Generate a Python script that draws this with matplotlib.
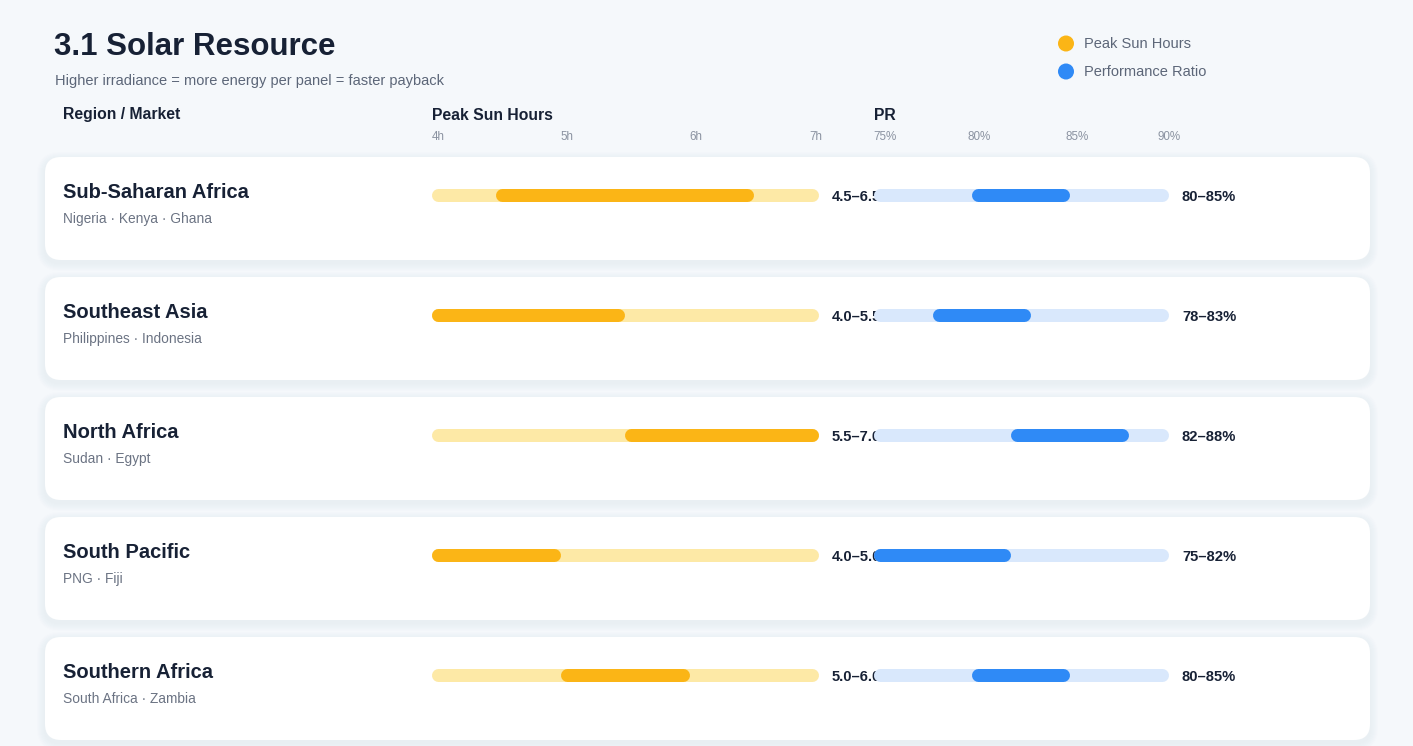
import matplotlib
matplotlib.use('Agg')
import matplotlib.pyplot as plt
from matplotlib.patches import FancyBboxPatch, Circle

plt.rcParams['font.family'] = ['Liberation Sans', 'DejaVu Sans']

# data
regions = ['Sub-Saharan Africa', 'Southeast Asia', 'North Africa', 'South Pacific', 'Southern Africa']
countries = ['Nigeria · Kenya · Ghana', 'Philippines · Indonesia', 'Sudan · Egypt', 'PNG · Fiji', 'South Africa · Zambia']
psh_lo = [4.5, 4.0, 5.5, 4.0, 5.0]
psh_hi = [6.5, 5.5, 7.0, 5.0, 6.0]
pr_lo = [80, 78, 82, 75, 80]
pr_hi = [85, 83, 88, 82, 85]
psh_ticks = [4, 5, 6, 7]
pr_ticks = [75, 80, 85, 90]

W, H = 1413, 746
BG = '#f5f8fb'
DARK = '#172135'
GREY = '#5c6678'
LIGHTGREY = '#8b93a1'
ORANGE = '#fbb516'
ORANGE_L = '#fde9a6'
BLUE = '#2f8af6'
BLUE_L = '#d9e8fc'

fig = plt.figure(figsize=(W / 100, H / 100), dpi=100)
fig.patch.set_facecolor(BG)
ax = fig.add_axes([0, 0, 1, 1])
ax.set_xlim(0, W)
ax.set_ylim(H, 0)
ax.axis('off')

# header
ax.text(54, 47, '3.1 Solar Resource', fontsize=22.5, fontweight='bold', color=DARK, va='center')
ax.text(55, 81, 'Higher irradiance = more energy per panel = faster payback', fontsize=10.5, color=GREY, va='center')

legend = [('Peak Sun Hours', ORANGE), ('Performance Ratio', BLUE)]
for k, (name, col) in enumerate(legend):
    y = 43.5 + 28 * k
    ax.add_patch(Circle((1066, y), 8, color=col, lw=0))
    ax.text(1084, y, name, fontsize=10.5, color=GREY, va='center')

ax.text(63, 115, 'Region / Market', fontsize=11.3, fontweight='bold', color=DARK, va='center')
ax.text(432, 115, 'Peak Sun Hours', fontsize=11.3, fontweight='bold', color=DARK, va='center')
ax.text(874, 115, 'PR', fontsize=11.3, fontweight='bold', color=DARK, va='center')

# cards
row_top, row_step, card_h = 157, 120, 103
for i, (reg, cty) in enumerate(zip(regions, countries)):
    top = row_top + row_step * i
    for s in range(8, 0, -1):
        ax.add_patch(FancyBboxPatch((45 - s, top - s + 3), 1325 + 2 * s, card_h + 2 * s,
                                    boxstyle='round,pad=0,rounding_size=%d' % (16 + s),
                                    fc='#dde5ef', ec='none', alpha=0.06))
    ax.add_patch(FancyBboxPatch((45, top), 1325, card_h, boxstyle='round,pad=0,rounding_size=16',
                                fc='white', ec='none'))
    ax.text(63, top + 36, reg, fontsize=14.5, fontweight='bold', color=DARK, va='center')
    ax.text(63, top + 62, cty, fontsize=9.9, color='#6b7383', va='center')

# bar axes: rows -0.5..4.5 map to pixel rows around the card centres
cy0 = 195
ybot = cy0 + row_step * 4.5
ytop = cy0 - row_step * 0.5
bar_px = 13


def bar_axes(x0, x1, lim):
    a = fig.add_axes([x0 / W, 1 - ybot / H, (x1 - x0) / W, (ybot - ytop) / H])
    a.set_xlim(*lim)
    a.set_ylim(len(regions) - 0.5, -0.5)
    a.axis('off')
    a.patch.set_alpha(0)
    return a


def rbar(a, lo, hi, y, col, px_per_unit, z):
    r = bar_px / 2 / px_per_unit
    a.plot([lo + r, hi - r], [y, y], color=col, lw=bar_px * 0.72, solid_capstyle='round',
           zorder=z, clip_on=False)


ax_psh = bar_axes(431.5, 818, (4, 7))
ax_pr = bar_axes(873.5, 1168, (75, 90))
psh_scale = (818 - 431.5) / 3
pr_scale = (1168 - 873.5) / 15

for i in range(len(regions)):
    rbar(ax_psh, 4, 7, i, ORANGE_L, psh_scale, 1)
    rbar(ax_psh, psh_lo[i], psh_hi[i], i, ORANGE, psh_scale, 2)
    ax_psh.annotate('%.1f–%.1f' % (psh_lo[i], psh_hi[i]), xy=(7, i), xytext=(10, -1.1),
                    textcoords='offset points', fontsize=10.6, fontweight='bold', color=DARK,
                    va='center', ha='left', annotation_clip=False)
    rbar(ax_pr, 75, 90, i, BLUE_L, pr_scale, 1)
    rbar(ax_pr, pr_lo[i], pr_hi[i], i, BLUE, pr_scale, 2)
    ax_pr.annotate('%d–%d%%' % (pr_lo[i], pr_hi[i]), xy=(90, i), xytext=(10, -1.1),
                   textcoords='offset points', fontsize=10.6, fontweight='bold', color=DARK,
                   va='center', ha='left', annotation_clip=False)

# tick labels above the tracks
tick_row = (136.5 - cy0) / row_step
for t in psh_ticks:
    ha = 'right' if t == psh_ticks[-1] else 'left'
    xt = t + (0.03 if t == psh_ticks[-1] else 0)
    ax_psh.text(xt, tick_row, '%dh' % t, fontsize=8.4, color=LIGHTGREY,
                ha=ha, va='center', clip_on=False)
for t in pr_ticks:
    off = {75: 0, 80: -0.2, 85: -0.2, 90: -0.55}[t]
    ax_pr.text(t + off, tick_row, '%d%%' % t, fontsize=8.4, color=LIGHTGREY,
               ha='left', va='center', clip_on=False)

fig.savefig('out.png', dpi=100, facecolor=BG)
